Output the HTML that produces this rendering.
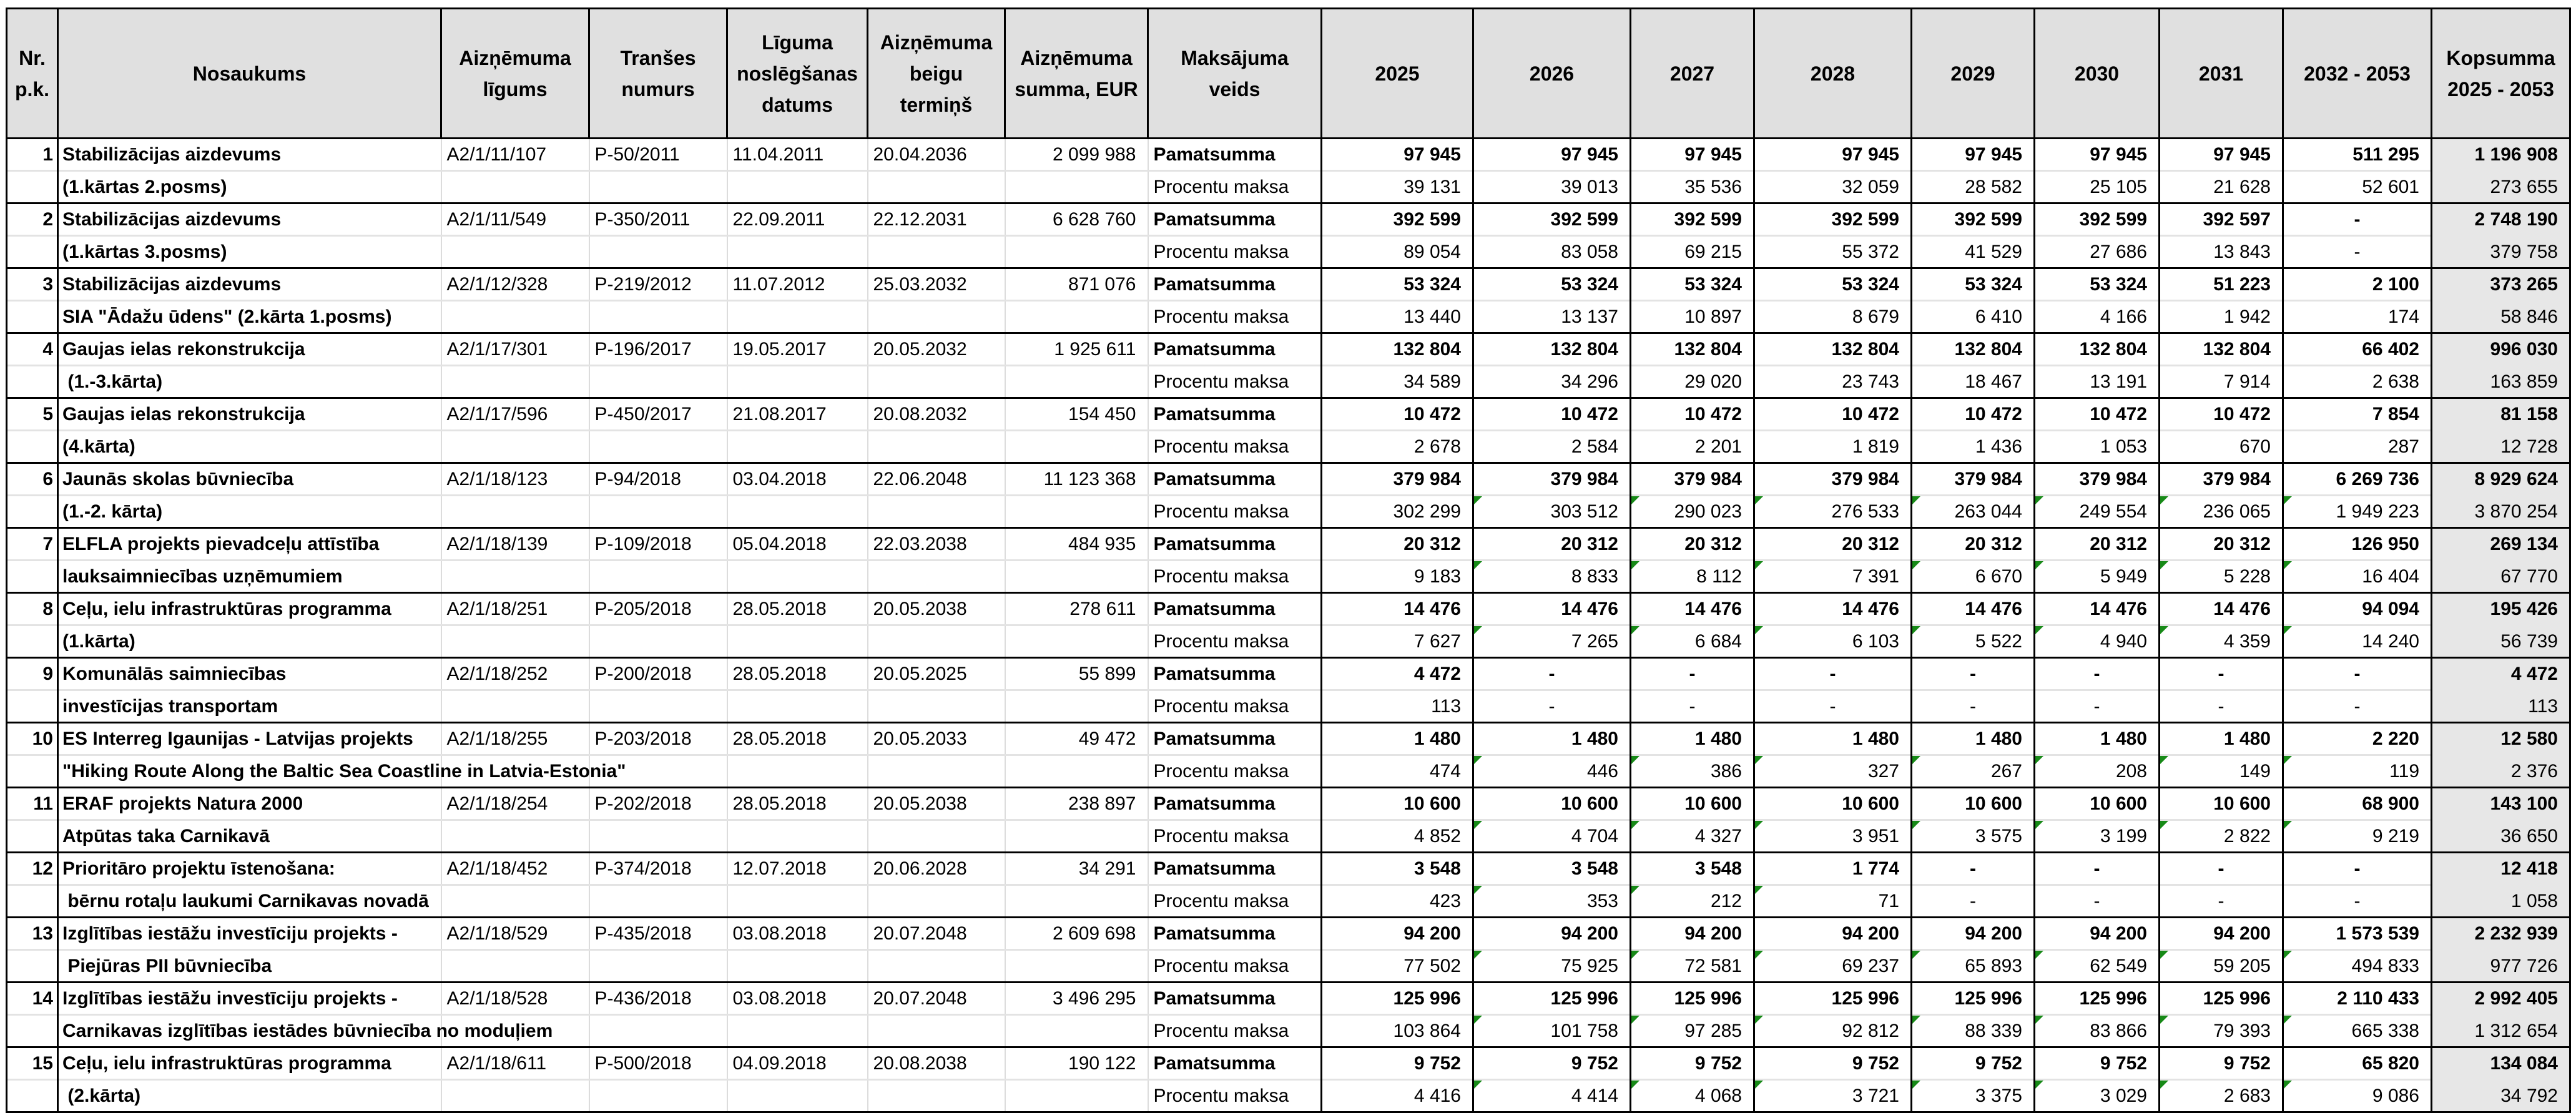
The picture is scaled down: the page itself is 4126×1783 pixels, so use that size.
<!DOCTYPE html>
<html><head><meta charset="utf-8">
<style>
html,body{margin:0;padding:0;background:#fff;width:4126px;height:1768px;overflow:hidden}
table{position:absolute;left:9px;top:12px;border-collapse:collapse;table-layout:fixed;width:4106px;font-family:"Liberation Sans",sans-serif;font-size:30px;color:#000}
th{background:#e0e0e0;border:3px solid #000;font-size:32px;font-weight:bold;line-height:50px;height:205px;text-align:center;vertical-align:middle;padding:0 2px;white-space:nowrap}
td{padding:0 18px 0 8px;white-space:nowrap;overflow:visible;border-left:2px solid #dcdcdc;border-right:2px solid #dcdcdc;vertical-align:middle;text-align:left}
tr.p td{border-top:3px solid #000;height:49px}
tr.i td{border-top:3px solid #e3e3e3;height:49px}
td.n{font-weight:bold;text-align:right;padding:0 6px 0 0;border-right:3px solid #000;border-left:3px solid #000}
td.nm{font-weight:bold;padding-left:6px}
td.r{text-align:right}
tr.p td.mk{font-weight:bold}
td.y{text-align:right;border-left:3px solid #000;border-right:3px solid #000;position:relative}
tr.p td.y{font-weight:bold}
td.k{background:#e7e7e7}
tr.i td.k{border-top:3px solid #e7e7e7}
td.d{text-align:center;padding:0}
td.t::before{content:"";position:absolute;left:0;top:0;border-top:13px solid #178a17;border-right:13px solid transparent}
tr.last td{border-bottom:3px solid #000}
</style></head><body>
<table>
<colgroup>
<col style="width:82px"><col style="width:614px"><col style="width:237px"><col style="width:221px"><col style="width:225px"><col style="width:220px"><col style="width:229px"><col style="width:278px"><col style="width:243px"><col style="width:252px"><col style="width:198px"><col style="width:252px"><col style="width:197px"><col style="width:200px"><col style="width:198px"><col style="width:238px"><col style="width:222px">
</colgroup>
<tr><th>Nr.<br>p.k.</th><th>Nosaukums</th><th>Aizņēmuma<br>līgums</th><th>Tranšes<br>numurs</th><th>Līguma<br>noslēgšanas<br>datums</th><th>Aizņēmuma<br>beigu<br>termiņš</th><th>Aizņēmuma<br>summa, EUR</th><th>Maksājuma<br>veids</th><th>2025</th><th>2026</th><th>2027</th><th>2028</th><th>2029</th><th>2030</th><th>2031</th><th>2032 - 2053</th><th>Kopsumma<br>2025 - 2053</th></tr>

<tr class="p"><td class="n">1</td><td class="nm">Stabilizācijas aizdevums</td><td>A2/1/11/107</td><td>P-50/2011</td><td>11.04.2011</td><td>20.04.2036</td><td class="r">2 099 988</td><td class="mk">Pamatsumma</td><td class="y">97 945</td><td class="y">97 945</td><td class="y">97 945</td><td class="y">97 945</td><td class="y">97 945</td><td class="y">97 945</td><td class="y">97 945</td><td class="y">511 295</td><td class="y k">1 196 908</td></tr>
<tr class="i"><td class="n"></td><td class="nm">(1.kārtas 2.posms)</td><td></td><td></td><td></td><td></td><td></td><td>Procentu maksa</td><td class="y">39 131</td><td class="y">39 013</td><td class="y">35 536</td><td class="y">32 059</td><td class="y">28 582</td><td class="y">25 105</td><td class="y">21 628</td><td class="y">52 601</td><td class="y k">273 655</td></tr>

<tr class="p"><td class="n">2</td><td class="nm">Stabilizācijas aizdevums</td><td>A2/1/11/549</td><td>P-350/2011</td><td>22.09.2011</td><td>22.12.2031</td><td class="r">6 628 760</td><td class="mk">Pamatsumma</td><td class="y">392 599</td><td class="y">392 599</td><td class="y">392 599</td><td class="y">392 599</td><td class="y">392 599</td><td class="y">392 599</td><td class="y">392 597</td><td class="y d">-</td><td class="y k">2 748 190</td></tr>
<tr class="i"><td class="n"></td><td class="nm">(1.kārtas 3.posms)</td><td></td><td></td><td></td><td></td><td></td><td>Procentu maksa</td><td class="y">89 054</td><td class="y">83 058</td><td class="y">69 215</td><td class="y">55 372</td><td class="y">41 529</td><td class="y">27 686</td><td class="y">13 843</td><td class="y d">-</td><td class="y k">379 758</td></tr>

<tr class="p"><td class="n">3</td><td class="nm">Stabilizācijas aizdevums</td><td>A2/1/12/328</td><td>P-219/2012</td><td>11.07.2012</td><td>25.03.2032</td><td class="r">871 076</td><td class="mk">Pamatsumma</td><td class="y">53 324</td><td class="y">53 324</td><td class="y">53 324</td><td class="y">53 324</td><td class="y">53 324</td><td class="y">53 324</td><td class="y">51 223</td><td class="y">2 100</td><td class="y k">373 265</td></tr>
<tr class="i"><td class="n"></td><td class="nm">SIA "Ādažu ūdens" (2.kārta 1.posms)</td><td></td><td></td><td></td><td></td><td></td><td>Procentu maksa</td><td class="y">13 440</td><td class="y">13 137</td><td class="y">10 897</td><td class="y">8 679</td><td class="y">6 410</td><td class="y">4 166</td><td class="y">1 942</td><td class="y">174</td><td class="y k">58 846</td></tr>

<tr class="p"><td class="n">4</td><td class="nm">Gaujas ielas rekonstrukcija</td><td>A2/1/17/301</td><td>P-196/2017</td><td>19.05.2017</td><td>20.05.2032</td><td class="r">1 925 611</td><td class="mk">Pamatsumma</td><td class="y">132 804</td><td class="y">132 804</td><td class="y">132 804</td><td class="y">132 804</td><td class="y">132 804</td><td class="y">132 804</td><td class="y">132 804</td><td class="y">66 402</td><td class="y k">996 030</td></tr>
<tr class="i"><td class="n"></td><td class="nm">&nbsp;(1.-3.kārta)</td><td></td><td></td><td></td><td></td><td></td><td>Procentu maksa</td><td class="y">34 589</td><td class="y">34 296</td><td class="y">29 020</td><td class="y">23 743</td><td class="y">18 467</td><td class="y">13 191</td><td class="y">7 914</td><td class="y">2 638</td><td class="y k">163 859</td></tr>

<tr class="p"><td class="n">5</td><td class="nm">Gaujas ielas rekonstrukcija</td><td>A2/1/17/596</td><td>P-450/2017</td><td>21.08.2017</td><td>20.08.2032</td><td class="r">154 450</td><td class="mk">Pamatsumma</td><td class="y">10 472</td><td class="y">10 472</td><td class="y">10 472</td><td class="y">10 472</td><td class="y">10 472</td><td class="y">10 472</td><td class="y">10 472</td><td class="y">7 854</td><td class="y k">81 158</td></tr>
<tr class="i"><td class="n"></td><td class="nm">(4.kārta)</td><td></td><td></td><td></td><td></td><td></td><td>Procentu maksa</td><td class="y">2 678</td><td class="y">2 584</td><td class="y">2 201</td><td class="y">1 819</td><td class="y">1 436</td><td class="y">1 053</td><td class="y">670</td><td class="y">287</td><td class="y k">12 728</td></tr>

<tr class="p"><td class="n">6</td><td class="nm">Jaunās skolas būvniecība</td><td>A2/1/18/123</td><td>P-94/2018</td><td>03.04.2018</td><td>22.06.2048</td><td class="r">11 123 368</td><td class="mk">Pamatsumma</td><td class="y">379 984</td><td class="y">379 984</td><td class="y">379 984</td><td class="y">379 984</td><td class="y">379 984</td><td class="y">379 984</td><td class="y">379 984</td><td class="y">6 269 736</td><td class="y k">8 929 624</td></tr>
<tr class="i"><td class="n"></td><td class="nm">(1.-2. kārta)</td><td></td><td></td><td></td><td></td><td></td><td>Procentu maksa</td><td class="y">302 299</td><td class="y t">303 512</td><td class="y t">290 023</td><td class="y t">276 533</td><td class="y t">263 044</td><td class="y t">249 554</td><td class="y t">236 065</td><td class="y t">1 949 223</td><td class="y k">3 870 254</td></tr>

<tr class="p"><td class="n">7</td><td class="nm">ELFLA projekts pievadceļu attīstība</td><td>A2/1/18/139</td><td>P-109/2018</td><td>05.04.2018</td><td>22.03.2038</td><td class="r">484 935</td><td class="mk">Pamatsumma</td><td class="y">20 312</td><td class="y">20 312</td><td class="y">20 312</td><td class="y">20 312</td><td class="y">20 312</td><td class="y">20 312</td><td class="y">20 312</td><td class="y">126 950</td><td class="y k">269 134</td></tr>
<tr class="i"><td class="n"></td><td class="nm">lauksaimniecības uzņēmumiem</td><td></td><td></td><td></td><td></td><td></td><td>Procentu maksa</td><td class="y">9 183</td><td class="y t">8 833</td><td class="y t">8 112</td><td class="y t">7 391</td><td class="y t">6 670</td><td class="y t">5 949</td><td class="y t">5 228</td><td class="y t">16 404</td><td class="y k">67 770</td></tr>

<tr class="p"><td class="n">8</td><td class="nm">Ceļu, ielu infrastruktūras programma</td><td>A2/1/18/251</td><td>P-205/2018</td><td>28.05.2018</td><td>20.05.2038</td><td class="r">278 611</td><td class="mk">Pamatsumma</td><td class="y">14 476</td><td class="y">14 476</td><td class="y">14 476</td><td class="y">14 476</td><td class="y">14 476</td><td class="y">14 476</td><td class="y">14 476</td><td class="y">94 094</td><td class="y k">195 426</td></tr>
<tr class="i"><td class="n"></td><td class="nm">(1.kārta)</td><td></td><td></td><td></td><td></td><td></td><td>Procentu maksa</td><td class="y">7 627</td><td class="y t">7 265</td><td class="y t">6 684</td><td class="y t">6 103</td><td class="y t">5 522</td><td class="y t">4 940</td><td class="y t">4 359</td><td class="y t">14 240</td><td class="y k">56 739</td></tr>

<tr class="p"><td class="n">9</td><td class="nm">Komunālās saimniecības</td><td>A2/1/18/252</td><td>P-200/2018</td><td>28.05.2018</td><td>20.05.2025</td><td class="r">55 899</td><td class="mk">Pamatsumma</td><td class="y">4 472</td><td class="y d">-</td><td class="y d">-</td><td class="y d">-</td><td class="y d">-</td><td class="y d">-</td><td class="y d">-</td><td class="y d">-</td><td class="y k">4 472</td></tr>
<tr class="i"><td class="n"></td><td class="nm">investīcijas transportam</td><td></td><td></td><td></td><td></td><td></td><td>Procentu maksa</td><td class="y">113</td><td class="y d">-</td><td class="y d">-</td><td class="y d">-</td><td class="y d">-</td><td class="y d">-</td><td class="y d">-</td><td class="y d">-</td><td class="y k">113</td></tr>

<tr class="p"><td class="n">10</td><td class="nm">ES Interreg Igaunijas - Latvijas projekts</td><td>A2/1/18/255</td><td>P-203/2018</td><td>28.05.2018</td><td>20.05.2033</td><td class="r">49 472</td><td class="mk">Pamatsumma</td><td class="y">1 480</td><td class="y">1 480</td><td class="y">1 480</td><td class="y">1 480</td><td class="y">1 480</td><td class="y">1 480</td><td class="y">1 480</td><td class="y">2 220</td><td class="y k">12 580</td></tr>
<tr class="i"><td class="n"></td><td class="nm">"Hiking Route Along the Baltic Sea Coastline in Latvia-Estonia"</td><td></td><td></td><td></td><td></td><td></td><td>Procentu maksa</td><td class="y">474</td><td class="y t">446</td><td class="y t">386</td><td class="y t">327</td><td class="y t">267</td><td class="y t">208</td><td class="y t">149</td><td class="y t">119</td><td class="y k">2 376</td></tr>

<tr class="p"><td class="n">11</td><td class="nm">ERAF projekts Natura 2000</td><td>A2/1/18/254</td><td>P-202/2018</td><td>28.05.2018</td><td>20.05.2038</td><td class="r">238 897</td><td class="mk">Pamatsumma</td><td class="y">10 600</td><td class="y">10 600</td><td class="y">10 600</td><td class="y">10 600</td><td class="y">10 600</td><td class="y">10 600</td><td class="y">10 600</td><td class="y">68 900</td><td class="y k">143 100</td></tr>
<tr class="i"><td class="n"></td><td class="nm">Atpūtas taka Carnikavā</td><td></td><td></td><td></td><td></td><td></td><td>Procentu maksa</td><td class="y">4 852</td><td class="y t">4 704</td><td class="y t">4 327</td><td class="y t">3 951</td><td class="y t">3 575</td><td class="y t">3 199</td><td class="y t">2 822</td><td class="y t">9 219</td><td class="y k">36 650</td></tr>

<tr class="p"><td class="n">12</td><td class="nm">Prioritāro projektu īstenošana:</td><td>A2/1/18/452</td><td>P-374/2018</td><td>12.07.2018</td><td>20.06.2028</td><td class="r">34 291</td><td class="mk">Pamatsumma</td><td class="y">3 548</td><td class="y">3 548</td><td class="y">3 548</td><td class="y">1 774</td><td class="y d">-</td><td class="y d">-</td><td class="y d">-</td><td class="y d">-</td><td class="y k">12 418</td></tr>
<tr class="i"><td class="n"></td><td class="nm">&nbsp;bērnu rotaļu laukumi Carnikavas novadā</td><td></td><td></td><td></td><td></td><td></td><td>Procentu maksa</td><td class="y">423</td><td class="y t">353</td><td class="y t">212</td><td class="y t">71</td><td class="y d">-</td><td class="y d">-</td><td class="y d">-</td><td class="y d">-</td><td class="y k">1 058</td></tr>

<tr class="p"><td class="n">13</td><td class="nm">Izglītības iestāžu investīciju projekts -</td><td>A2/1/18/529</td><td>P-435/2018</td><td>03.08.2018</td><td>20.07.2048</td><td class="r">2 609 698</td><td class="mk">Pamatsumma</td><td class="y">94 200</td><td class="y">94 200</td><td class="y">94 200</td><td class="y">94 200</td><td class="y">94 200</td><td class="y">94 200</td><td class="y">94 200</td><td class="y">1 573 539</td><td class="y k">2 232 939</td></tr>
<tr class="i"><td class="n"></td><td class="nm">&nbsp;Piejūras PII būvniecība</td><td></td><td></td><td></td><td></td><td></td><td>Procentu maksa</td><td class="y">77 502</td><td class="y t">75 925</td><td class="y t">72 581</td><td class="y t">69 237</td><td class="y t">65 893</td><td class="y t">62 549</td><td class="y t">59 205</td><td class="y t">494 833</td><td class="y k">977 726</td></tr>

<tr class="p"><td class="n">14</td><td class="nm">Izglītības iestāžu investīciju projekts -</td><td>A2/1/18/528</td><td>P-436/2018</td><td>03.08.2018</td><td>20.07.2048</td><td class="r">3 496 295</td><td class="mk">Pamatsumma</td><td class="y">125 996</td><td class="y">125 996</td><td class="y">125 996</td><td class="y">125 996</td><td class="y">125 996</td><td class="y">125 996</td><td class="y">125 996</td><td class="y">2 110 433</td><td class="y k">2 992 405</td></tr>
<tr class="i"><td class="n"></td><td class="nm">Carnikavas izglītības iestādes būvniecība no moduļiem</td><td></td><td></td><td></td><td></td><td></td><td>Procentu maksa</td><td class="y">103 864</td><td class="y t">101 758</td><td class="y t">97 285</td><td class="y t">92 812</td><td class="y t">88 339</td><td class="y t">83 866</td><td class="y t">79 393</td><td class="y t">665 338</td><td class="y k">1 312 654</td></tr>

<tr class="p"><td class="n">15</td><td class="nm">Ceļu, ielu infrastruktūras programma</td><td>A2/1/18/611</td><td>P-500/2018</td><td>04.09.2018</td><td>20.08.2038</td><td class="r">190 122</td><td class="mk">Pamatsumma</td><td class="y">9 752</td><td class="y">9 752</td><td class="y">9 752</td><td class="y">9 752</td><td class="y">9 752</td><td class="y">9 752</td><td class="y">9 752</td><td class="y">65 820</td><td class="y k">134 084</td></tr>
<tr class="i last"><td class="n"></td><td class="nm">&nbsp;(2.kārta)</td><td></td><td></td><td></td><td></td><td></td><td>Procentu maksa</td><td class="y">4 416</td><td class="y t">4 414</td><td class="y t">4 068</td><td class="y t">3 721</td><td class="y t">3 375</td><td class="y t">3 029</td><td class="y t">2 683</td><td class="y t">9 086</td><td class="y k">34 792</td></tr>
</table>
</body></html>
